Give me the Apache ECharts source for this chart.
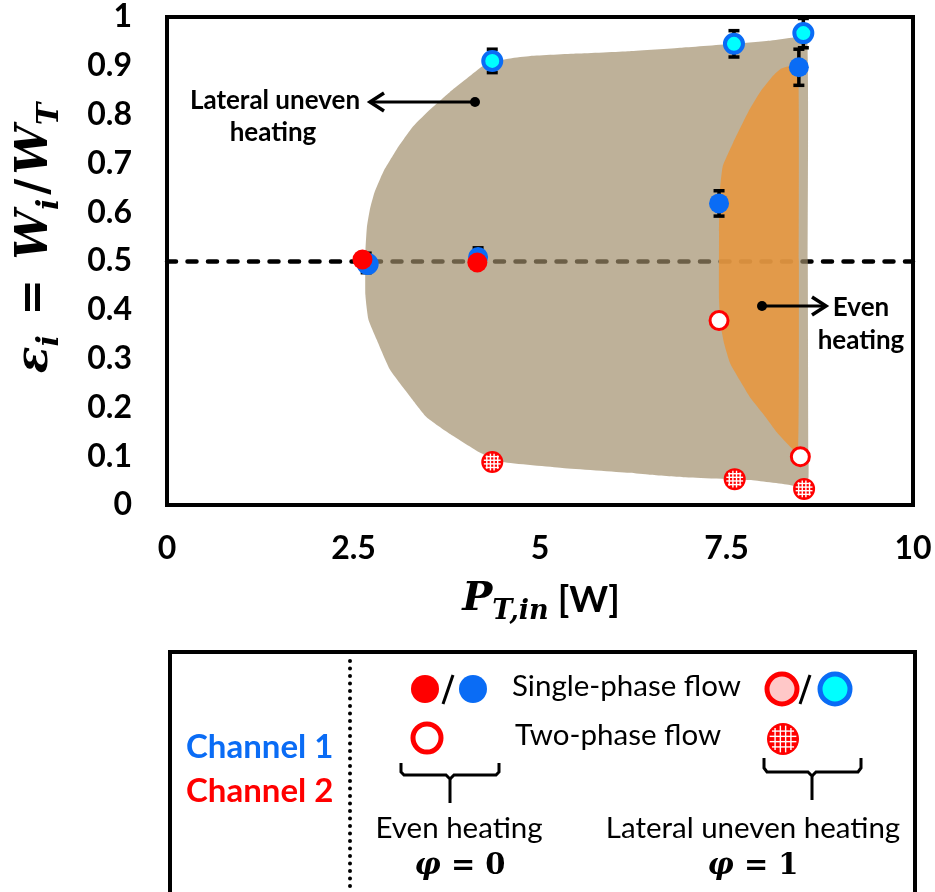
<!DOCTYPE html>
<html>
<head>
<meta charset="utf-8">
<script src="https://cdn.jsdelivr.net/npm/echarts@6/dist/echarts.min.js"></script>
<style>
  html, body { margin: 0; padding: 0; background: #fff; }
  #chart { width: 935px; height: 892px; }
</style>
</head>
<body>
<div id="chart"></div>
<script>
// Channel 1 (blue), single-phase flow, even heating
const ch1EvenX = [2.67, 4.17, 7.40, 8.47];
const ch1EvenY = [0.496, 0.508, 0.618, 0.897];
// Channel 1, single-phase flow, lateral uneven heating
const ch1UnevenX = [2.69, 4.36, 7.60, 8.53];
const ch1UnevenY = [0.494, 0.910, 0.945, 0.967];
// Channel 2 (red), single-phase flow, even heating
const ch2EvenX = [2.62, 4.16];
const ch2EvenY = [0.503, 0.497];
// Channel 2, two-phase flow, even heating
const ch2TwoEvenX = [7.40, 8.49];
const ch2TwoEvenY = [0.378, 0.099];
// Channel 2, two-phase flow, lateral uneven heating
const ch2TwoUnevenX = [4.36, 7.61, 8.54];
const ch2TwoUnevenY = [0.088, 0.053, 0.033];

// error bars (+/-)
const errX = [2.67, 4.17, 4.36, 7.40, 7.60, 8.47, 8.53];
const errY = [0.496, 0.508, 0.910, 0.618, 0.945, 0.897, 0.967];
const errD = [0.020, 0.019, 0.024, 0.026, 0.027, 0.037, 0.030];

// shaded region: lateral uneven heating
const beigeX = [2.66, 2.66, 2.68, 2.72, 2.78, 2.90, 3.08, 3.30, 3.53, 3.79, 4.06, 4.29, 4.60, 4.87, 5.50, 6.20, 6.90, 7.60, 8.10, 8.40, 8.58,
                8.59, 8.60, 8.60, 8.57, 8.50, 8.35, 7.81, 6.92, 6.47, 6.20, 5.30, 4.50, 4.20, 3.80, 3.48, 3.26, 2.99, 2.81, 2.70];
const beigeY = [0.430, 0.520, 0.570, 0.606, 0.640, 0.683, 0.729, 0.776, 0.811, 0.846, 0.879, 0.905, 0.915, 0.920, 0.925, 0.930, 0.937, 0.945, 0.952, 0.958, 0.962,
                0.500, 0.100, 0.057, 0.045, 0.035, 0.041, 0.051, 0.057, 0.062, 0.066, 0.076, 0.088, 0.107, 0.145, 0.180, 0.222, 0.277, 0.339, 0.380];
// shaded region: even heating
const orangeX = [8.46, 8.35, 8.22, 8.12, 7.95, 7.81, 7.59, 7.45, 7.41, 7.40, 7.40, 7.42, 7.47, 7.55, 7.68, 7.81, 8.00, 8.18, 8.35, 8.46, 8.47];
const orangeY = [0.905, 0.900, 0.893, 0.879, 0.846, 0.811, 0.743, 0.694, 0.640, 0.560, 0.420, 0.370, 0.330, 0.290, 0.255, 0.222, 0.185, 0.148, 0.120, 0.107, 0.500];

const evenSplit = 0.5;

const pairs = (xs, ys) => xs.map((x, i) => [x, ys[i]]);

const BLUE = '#0a6cf5';
const RED = '#ff0000';
const SANS = 'Lato';
const MATH = 'DejaVu Serif';

function hatchShapes(cx, cy, r) {
  const out = [{ type: 'circle', shape: { cx: cx, cy: cy, r: r }, style: { fill: RED } }];
  const inner = r - 2.4;
  const step = r * 0.33;
  [-1.5, -0.5, 0.5, 1.5].forEach(k => {
    const d = k * step;
    const h = Math.sqrt(Math.max(inner * inner - d * d, 0));
    out.push({ type: 'line', shape: { x1: cx + d, y1: cy - h, x2: cx + d, y2: cy + h }, style: { stroke: '#fff', lineWidth: 1.4 } });
    out.push({ type: 'line', shape: { x1: cx - h, y1: cy + d, x2: cx + h, y2: cy + d }, style: { stroke: '#fff', lineWidth: 1.4 } });
  });
  return out;
}

function regionRenderer(xs, ys, fill) {
  return function (params, api) {
    if (params.dataIndex !== 0) return;
    const pts = xs.map((x, i) => api.coord([x, ys[i]]));
    return { type: 'polygon', shape: { points: pts, smooth: 0.15 }, style: { fill: fill } };
  };
}

const chart = echarts.init(document.getElementById('chart'));

const TOP = 100;
const txt = (x, y, text, size, color, weight, align) => ({
  type: 'text', x: x, y: y, z: TOP, silent: true,
  style: { text: text, fontFamily: SANS, fontSize: size, fontWeight: weight || 'normal',
           fill: color || '#000', align: align || 'center', verticalAlign: 'middle' }
});
const line = (pts, w) => ({ type: 'polyline', z: TOP, silent: true, shape: { points: pts }, style: { stroke: '#000', lineWidth: w || 3, fill: null } });
const circ = (cx, cy, r, fill, stroke, lw) => ({ type: 'circle', z: TOP, silent: true, shape: { cx: cx, cy: cy, r: r },
  style: { fill: fill, stroke: stroke || null, lineWidth: lw || 0 } });
const phi = (x, y, digit) => ({
  type: 'text', x: x, y: y, z: TOP, silent: true,
  style: { text: '{f|φ}{n| = ' + digit + '}', align: 'center', verticalAlign: 'middle',
    rich: { f: { fontFamily: MATH, fontStyle: 'italic', fontWeight: 'bold', fontSize: 29 },
            n: { fontFamily: MATH, fontWeight: 'bold', fontSize: 29 } } }
});

const graphics = [
  // y axis title
  {
    type: 'text', x: 36, y: 238, rotation: Math.PI / 2, z: TOP, silent: true,
    style: {
      text: '{e|ε}{s|i}{q| = }{e|W}{s|i}{q|/}{e|W}{s|T}',
      align: 'center', verticalAlign: 'middle',
      rich: {
        e: { fontFamily: MATH, fontStyle: 'italic', fontWeight: 'bold', fontSize: 44, lineHeight: 58, verticalAlign: 'middle' },
        q: { fontFamily: MATH, fontWeight: 'bold', fontSize: 44, lineHeight: 58, verticalAlign: 'middle', padding: [0, 4] },
        s: { fontFamily: MATH, fontStyle: 'italic', fontWeight: 'bold', fontSize: 30, lineHeight: 30, verticalAlign: 'bottom' }
      }
    }
  },
  // x axis title
  {
    type: 'text', x: 541, y: 600, z: TOP, silent: true,
    style: {
      text: '{p|P}{s|T,in}{w| [W]}',
      align: 'center', verticalAlign: 'middle',
      rich: {
        p: { fontFamily: MATH, fontStyle: 'italic', fontWeight: 'bold', fontSize: 40, lineHeight: 50, verticalAlign: 'middle' },
        s: { fontFamily: MATH, fontStyle: 'italic', fontWeight: 'bold', fontSize: 27, lineHeight: 27, verticalAlign: 'bottom' },
        w: { fontFamily: SANS, fontWeight: 'bold', fontSize: 37, lineHeight: 50, verticalAlign: 'middle' }
      }
    }
  },
  // annotations inside plot
  txt(275, 101, 'Lateral uneven', 26, '#000', 'bold'),
  txt(273, 133, 'heating', 26, '#000', 'bold'),
  circ(475, 102, 5, '#000'),
  line([[475, 102], [370, 102]], 3),
  line([[384, 93], [370, 102], [384, 111]], 3.5),
  txt(861, 308, 'Even', 26, '#000', 'bold'),
  txt(861, 341, 'heating', 26, '#000', 'bold'),
  circ(762, 306, 5, '#000'),
  line([[762, 306], [826, 306]], 3),
  line([[812, 297], [826, 306], [812, 315]], 3.5),

  // legend box
  { type: 'rect', z: TOP, silent: true, shape: { x: 170, y: 652, width: 745, height: 262 },
    style: { fill: null, stroke: '#000', lineWidth: 4 } },
  { type: 'line', z: TOP, silent: true, shape: { x1: 350, y1: 661, x2: 350, y2: 892 },
    style: { stroke: '#000', lineWidth: 4, lineDash: [0.1, 7.4], lineCap: 'round' } },
  txt(186, 747, 'Channel 1', 33, BLUE, 'bold', 'left'),
  txt(186, 791, 'Channel 2', 33, RED, 'bold', 'left'),
  circ(425, 689, 14, RED),
  line([[443, 704], [453, 675]], 3),
  circ(473, 689, 14, BLUE),
  circ(427, 738, 14, '#fff', RED, 5),
  txt(512, 686, 'Single-phase flow', 29.5, '#000', 'normal', 'left'),
  txt(515, 735, 'Two-phase flow', 29.5, '#000', 'normal', 'left'),
  circ(782, 689, 15, '#ffc8c8', RED, 5),
  line([[800, 704], [810, 675]], 3),
  circ(835, 689, 15, '#00ffff', BLUE, 5),
  { type: 'group', z: TOP, silent: true, children: hatchShapes(783, 739, 16) },
  // brackets
  line([[401, 763], [401, 772], [404, 775], [446, 775], [450, 779], [450, 803]], 3),
  line([[450, 779], [454, 775], [496, 775], [499, 772], [499, 763]], 3),
  line([[764, 758], [764, 768], [767, 772], [808, 772], [812, 776], [812, 800]], 3),
  line([[812, 776], [816, 772], [858, 772], [861, 768], [861, 758]], 3),
  txt(459, 828, 'Even heating', 29.5),
  txt(753, 828, 'Lateral uneven heating', 29.5),
  phi(460, 866, '0'),
  phi(753, 866, '1')
];

const option = {
  animation: false,
  backgroundColor: '#fff',
  grid: {
    left: 167, right: 22, top: 17, bottom: 387,
    show: true, borderColor: '#000', borderWidth: 4, backgroundColor: 'transparent',
    containLabel: false, outerBoundsMode: 'none'
  },
  xAxis: {
    type: 'value', min: 0, max: 10, interval: 2.5,
    axisLine: { show: false }, axisTick: { show: false }, splitLine: { show: false },
    axisLabel: { color: '#000', fontFamily: SANS, fontWeight: 'bold', fontSize: 32, margin: 28 }
  },
  yAxis: {
    type: 'value', min: 0, max: 1, interval: 0.1,
    axisLine: { show: false }, axisTick: { show: false }, splitLine: { show: false },
    axisLabel: {
      color: '#000', fontFamily: SANS, fontWeight: 'bold', fontSize: 32, margin: 35,
      formatter: v => (Math.abs(v) < 1e-9 ? '0' : Math.abs(v - 1) < 1e-9 ? '1' : v.toFixed(1))
    }
  },
  graphic: graphics,
  series: [
    {
      type: 'line', data: [], z: 1, silent: true,
      markLine: {
        z: 1, silent: true, symbol: 'none', label: { show: false },
        lineStyle: { color: '#000', width: 4.5, type: [9, 11.5], cap: 'round' },
        data: [{ yAxis: evenSplit }]
      }
    },
    {
      type: 'custom', z: 2, silent: true,
      renderItem: regionRenderer(beigeX, beigeY, 'rgba(159,140,105,0.68)'),
      data: pairs(beigeX, beigeY)
    },
    {
      type: 'custom', z: 3, silent: true,
      renderItem: regionRenderer(orangeX, orangeY, 'rgba(232,150,61,0.86)'),
      data: pairs(orangeX, orangeY)
    },
    {
      type: 'custom', z: 4, silent: true,
      data: errX.map((x, i) => [x, errY[i], errD[i]]),
      renderItem: function (params, api) {
        const x = api.value(0), y = api.value(1), d = api.value(2);
        const top = api.coord([x, y + d]);
        const bot = api.coord([x, y - d]);
        const st = { stroke: '#000', lineWidth: 3.5 };
        return {
          type: 'group', children: [
            { type: 'line', shape: { x1: top[0], y1: top[1], x2: bot[0], y2: bot[1] }, style: st },
            { type: 'line', shape: { x1: top[0] - 5.5, y1: top[1], x2: top[0] + 5.5, y2: top[1] }, style: st },
            { type: 'line', shape: { x1: bot[0] - 5.5, y1: bot[1], x2: bot[0] + 5.5, y2: bot[1] }, style: st }
          ]
        };
      }
    },
    {
      type: 'scatter', z: 5, symbol: 'circle', symbolSize: 18,
      itemStyle: { color: '#00ffff', borderColor: BLUE, borderWidth: 4, opacity: 1 },
      data: pairs(ch1UnevenX, ch1UnevenY)
    },
    {
      type: 'scatter', z: 6, symbol: 'circle', symbolSize: 20,
      itemStyle: { color: BLUE, opacity: 1 },
      data: pairs(ch1EvenX, ch1EvenY)
    },
    {
      type: 'scatter', z: 7, symbol: 'circle', symbolSize: 20,
      itemStyle: { color: RED, opacity: 1 },
      data: pairs(ch2EvenX, ch2EvenY)
    },
    {
      type: 'scatter', z: 7, symbol: 'circle', symbolSize: 18,
      itemStyle: { color: '#fff', borderColor: RED, borderWidth: 3, opacity: 1 },
      data: pairs(ch2TwoEvenX, ch2TwoEvenY)
    },
    {
      type: 'custom', z: 7, silent: true,
      data: pairs(ch2TwoUnevenX, ch2TwoUnevenY),
      renderItem: function (params, api) {
        const c = api.coord([api.value(0), api.value(1)]);
        return { type: 'group', children: hatchShapes(c[0], c[1], 11) };
      }
    }
  ]
};

chart.setOption(option);
</script>
</body>
</html>
